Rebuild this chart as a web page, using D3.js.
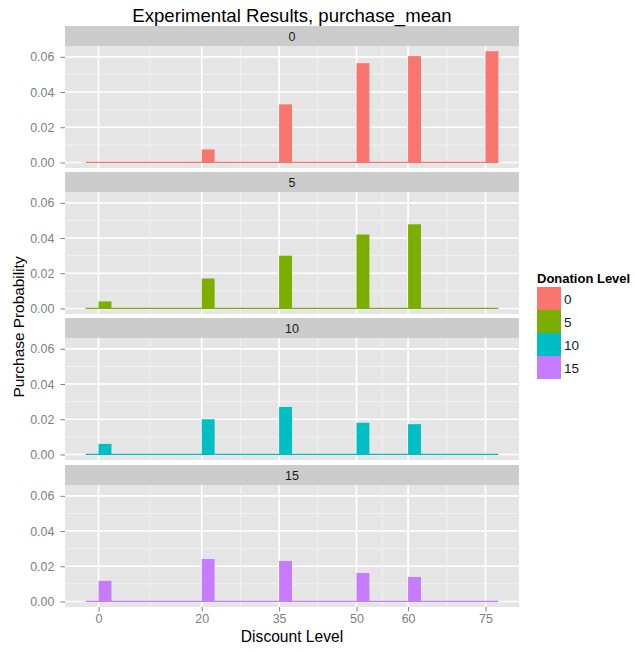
<!DOCTYPE html>
<html lang="en">
<head>
<meta charset="UTF-8">
<title>Experimental Results, purchase_mean</title>
<script src="https://d3js.org/d3.v7.min.js"></script>
<style>
    body { margin: 0; background: #fff; }
    svg text { font-family: "Liberation Sans", Arial, Helvetica, sans-serif; }
</style>
</head>
<body>
<svg id="chart" width="635" height="652"></svg>
<script>
    // data
    const discounts = [0, 20, 35, 50, 60, 75];
    const donations = ["0", "5", "10", "15"];
    const purchase0 = [0.0000, 0.0074, 0.0330, 0.0564, 0.0604, 0.0632];
    const purchase5 = [0.0040, 0.0170, 0.0300, 0.0420, 0.0478, 0.0000];
    const purchase10 = [0.0060, 0.0200, 0.0270, 0.0180, 0.0172, 0.0000];
    const purchase15 = [0.0117, 0.0241, 0.0230, 0.0162, 0.0139, 0.0000];
    const series = [purchase0, purchase5, purchase10, purchase15];
    const colors = ["#F8766D", "#7CAE00", "#00BFC4", "#C77CFF"];
    const yTicks = [0, 0.02, 0.04, 0.06];
    const yMinor = [0.01, 0.03, 0.05];
    const xMinor = [10, 27.5, 42.5, 55, 67.5];
    const binWidth = 2.5;

    const svg = d3.select("#chart");

    const left = 65, right = 519;
    const stripH = 20, panelH = 122;
    const facetTops = [26, 172, 318, 465];

    const x = d3.scaleLinear().domain([-6.5, 81.5]).range([left, right]);
    const y = d3.scaleLinear().domain([-0.00315, 0.06615]).range([panelH, 0]);

    facetTops.forEach((top, i) => {
        const strip = svg.append("g").attr("transform", `translate(0,${top})`);
        strip.append("rect")
            .attr("x", left).attr("y", 0)
            .attr("width", right - left).attr("height", stripH)
            .attr("fill", "#CCCCCC");
        strip.append("text")
            .attr("x", (left + right) / 2).attr("y", stripH / 2 + 4.5)
            .attr("text-anchor", "middle")
            .style("font-size", "12.5px")
            .attr("fill", "#1a1a1a")
            .text(donations[i]);

        const g = svg.append("g").attr("transform", `translate(0,${top + stripH})`);
        g.append("rect")
            .attr("x", left).attr("y", 0)
            .attr("width", right - left).attr("height", panelH)
            .attr("fill", "#E5E5E5");

        // minor grid
        g.selectAll(".ymin").data(yMinor).enter().append("line")
            .attr("x1", left).attr("x2", right)
            .attr("y1", d => y(d)).attr("y2", d => y(d))
            .attr("stroke", "#F2F2F2").attr("stroke-width", 1);
        g.selectAll(".xmin").data(xMinor).enter().append("line")
            .attr("x1", d => x(d)).attr("x2", d => x(d))
            .attr("y1", 0).attr("y2", panelH)
            .attr("stroke", "#F2F2F2").attr("stroke-width", 1);
        // major grid
        g.selectAll(".ymaj").data(yTicks).enter().append("line")
            .attr("x1", left).attr("x2", right)
            .attr("y1", d => y(d)).attr("y2", d => y(d))
            .attr("stroke", "#FFFFFF").attr("stroke-width", 1.6);
        g.selectAll(".xmaj").data(discounts).enter().append("line")
            .attr("x1", d => x(d)).attr("x2", d => x(d))
            .attr("y1", 0).attr("y2", panelH)
            .attr("stroke", "#FFFFFF").attr("stroke-width", 1.6);

        // zero-height bins show as a thin line
        g.append("line")
            .attr("x1", x(-binWidth)).attr("x2", x(75 + binWidth))
            .attr("y1", y(0)).attr("y2", y(0))
            .attr("stroke", colors[i]).attr("stroke-width", 1.2);

        g.selectAll(".bar").data(discounts).enter().append("rect")
            .attr("x", d => x(d))
            .attr("width", x(binWidth) - x(0))
            .attr("y", (d, j) => y(series[i][j]))
            .attr("height", (d, j) => y(0) - y(series[i][j]))
            .attr("fill", colors[i]);

        // y axis
        const ya = g.append("g")
            .attr("transform", `translate(${left},0)`)
            .call(d3.axisLeft(y).tickValues(yTicks).tickFormat(d3.format(".2f")).tickSize(4.5).tickPadding(6));
        ya.select(".domain").remove();
        ya.selectAll("line").attr("stroke", "#7F7F7F");
        ya.selectAll("text").attr("fill", "#7F7F7F").style("font-size", "12.5px");
    });

    // x axis
    const bottom = facetTops[3] + stripH + panelH;
    const xa = svg.append("g")
        .attr("transform", `translate(0,${bottom})`)
        .call(d3.axisBottom(x).tickValues(discounts).tickSize(4.5).tickPadding(3));
    xa.select(".domain").remove();
    xa.selectAll("line").attr("stroke", "#7F7F7F");
    xa.selectAll("text").attr("fill", "#7F7F7F").style("font-size", "12.5px");

    // titles
    svg.append("text")
        .attr("x", (left + right) / 2).attr("y", 22)
        .attr("text-anchor", "middle")
        .style("font-size", "18.6px")
        .text("Experimental Results, purchase_mean");

    svg.append("text")
        .attr("x", (left + right) / 2).attr("y", 642)
        .attr("text-anchor", "middle")
        .style("font-size", "15.6px")
        .text("Discount Level");

    svg.append("text")
        .attr("text-anchor", "middle")
        .attr("transform", `translate(24,327)rotate(-90)`)
        .style("font-size", "15.4px")
        .text("Purchase Probability");

    // legend
    const legend = svg.append("g").attr("transform", "translate(537,270)");
    legend.append("text")
        .attr("x", 0).attr("y", 13)
        .style("font-size", "13px")
        .style("font-weight", "bold")
        .text("Donation Level");
    legend.selectAll(".key").data(donations).enter().append("rect")
        .attr("x", 0).attr("y", (d, i) => 17 + i * 23)
        .attr("width", 24).attr("height", 23)
        .attr("fill", (d, i) => colors[i]);
    legend.selectAll(".lab").data(donations).enter().append("text")
        .attr("x", 27).attr("y", (d, i) => 17 + i * 23 + 16.5)
        .style("font-size", "13.5px")
        .attr("fill", "#1a1a1a")
        .text(d => d);
</script>
</body>
</html>
